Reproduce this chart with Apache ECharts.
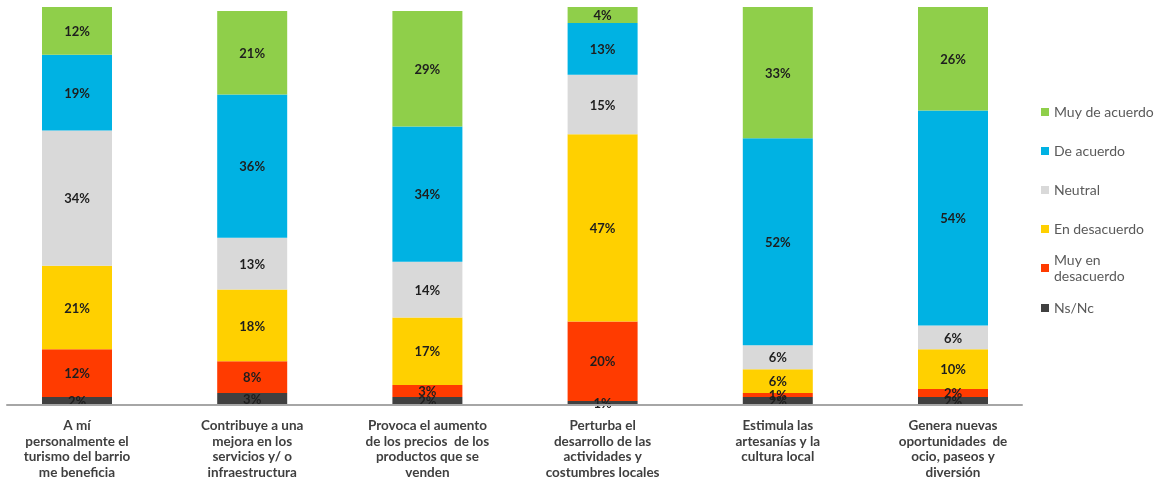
<!DOCTYPE html>
<html>
<head>
<meta charset="utf-8">
<script src="https://cdn.jsdelivr.net/npm/echarts@6/dist/echarts.min.js"></script>
<style>
  html, body { margin: 0; padding: 0; background: #ffffff; }
  #chart { width: 1162px; height: 477px; }
</style>
</head>
<body>
<div id="chart"></div>
<script>
// Survey statements (x axis)
var categories = [
  'A mí\npersonalmente el\nturismo del barrio\nme beneficia',
  'Contribuye a una\nmejora en los\nservicios y/ o\ninfraestructura',
  'Provoca el aumento\nde los precios  de los\nproductos que se\nvenden',
  'Perturba el\ndesarrollo de las\nactividades y\ncostumbres locales',
  'Estimula las\nartesanías y la\ncultura local',
  'Genera nuevas\noportunidades  de\nocio, paseos y\ndiversión'
];

// Share of answers per statement (%), bottom to top of each stack
var nsNc          = [2, 3, 2, 1, 2, 2];
var muyDesacuerdo = [12, 8, 3, 20, 1, 2];
var enDesacuerdo  = [21, 18, 17, 47, 6, 10];
var neutral       = [34, 13, 14, 15, 6, 6];
var deAcuerdo     = [19, 36, 34, 13, 52, 54];
var muyAcuerdo    = [12, 21, 29, 4, 33, 26];

var seriesNames = ['Ns/Nc', 'Muy en desacuerdo', 'En desacuerdo', 'Neutral', 'De acuerdo', 'Muy de acuerdo'];
var seriesData  = [nsNc, muyDesacuerdo, enDesacuerdo, neutral, deAcuerdo, muyAcuerdo];
var seriesColors = ['#404040', '#ff3b00', '#ffd000', '#d9d9d9', '#00b2e3', '#8fcf4a'];

var FONT = 'Lato, "Open Sans", sans-serif';

var chart = echarts.init(document.getElementById('chart'), null, { renderer: 'canvas' });

var series = seriesNames.map(function (name, i) {
  return {
    name: name,
    type: 'bar',
    stack: 'total',
    xAxisIndex: 0,
    yAxisIndex: 0,
    barWidth: 70,
    clip: false,
    data: seriesData[i],
    itemStyle: { color: seriesColors[i] },
    label: {
      show: true,
      position: 'inside',
      offset: [0, 1],
      formatter: '{c}%',
      color: '#1e1e1e',
      fontFamily: FONT,
      fontWeight: 'bold',
      fontSize: 13
    },
    emphasis: { disabled: true }
  };
});

var legendText = { color: '#5a5a5a', fontFamily: FONT, fontSize: 14, lineHeight: 16 };

chart.setOption({
  backgroundColor: '#ffffff',
  animation: false,
  grid: [
    // category points sit on the grid edges (boundaryGap false)
    { left: 77, width: 876, top: 7, height: 398, outerBoundsMode: 'none' },
    { left: 7, right: 140, top: 7, height: 398, outerBoundsMode: 'none' }
  ],
  xAxis: [
    {
      type: 'category',
      gridIndex: 0,
      boundaryGap: false,
      data: categories,
      axisLine: { show: false },
      axisTick: { show: false },
      splitLine: { show: false },
      axisLabel: {
        interval: 0,
        margin: 13,
        color: '#3f3f3f',
        fontFamily: FONT,
        fontWeight: 'bold',
        fontSize: 13.5,
        lineHeight: 15.5,
        align: 'center'
      }
    },
    {
      // baseline under the bars
      type: 'value',
      gridIndex: 1,
      min: 0,
      max: 1,
      axisLine: { show: true, lineStyle: { color: '#a6a6a6', width: 2 } },
      axisTick: { show: false },
      axisLabel: { show: false },
      splitLine: { show: false },
      z: 10
    }
  ],
  yAxis: [
    { type: 'value', gridIndex: 0, min: 0, max: 100, show: false },
    { type: 'value', gridIndex: 1, min: 0, max: 1, show: false }
  ],
  legend: [
    {
      orient: 'vertical',
      left: 1041,
      top: 104,
      padding: 0,
      itemWidth: 8,
      itemHeight: 8,
      itemGap: 23,
      icon: 'rect',
      data: ['Muy de acuerdo', 'De acuerdo', 'Neutral', 'En desacuerdo'],
      textStyle: legendText
    },
    {
      orient: 'vertical',
      left: 1041,
      top: 244,
      padding: 0,
      itemWidth: 8,
      itemHeight: 8,
      icon: 'rect',
      data: ['Muy en desacuerdo'],
      formatter: function () { return 'Muy en\ndesacuerdo'; },
      textStyle: Object.assign({}, legendText, { padding: [16, 0, 0, 0] })
    },
    {
      orient: 'vertical',
      left: 1041,
      top: 300,
      padding: 0,
      itemWidth: 8,
      itemHeight: 8,
      icon: 'rect',
      data: ['Ns/Nc'],
      textStyle: legendText
    }
  ],
  series: series
});
</script>
</body>
</html>
